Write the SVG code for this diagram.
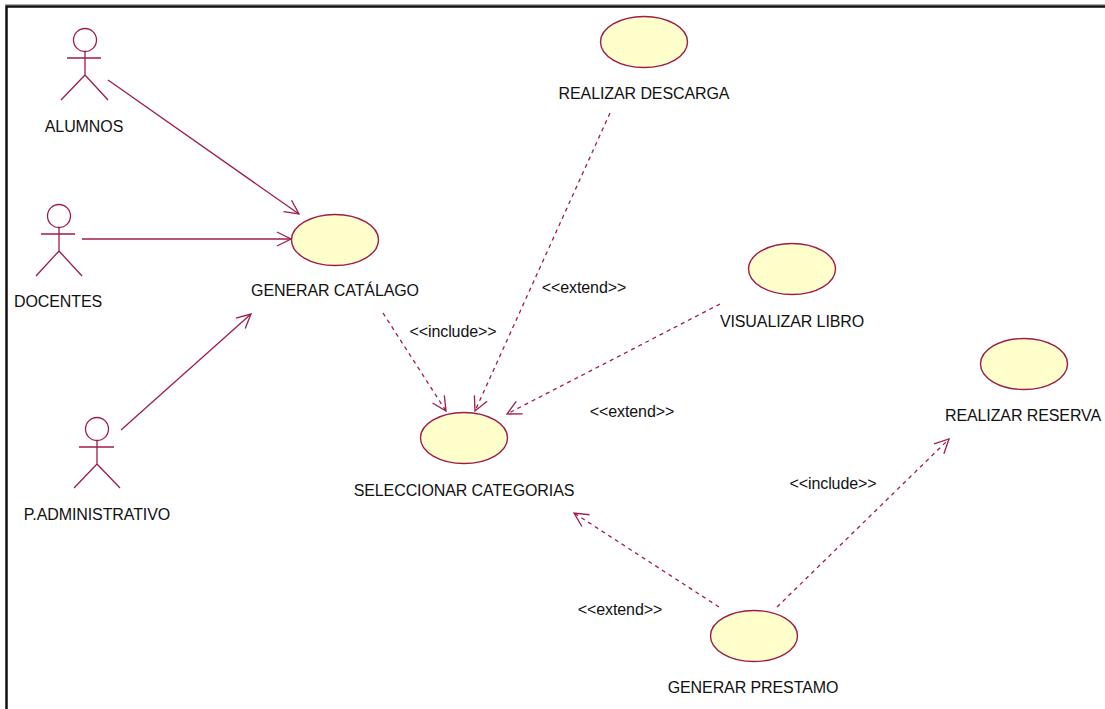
<svg xmlns="http://www.w3.org/2000/svg" width="1105" height="709" viewBox="0 0 1105 709">
<style>
.f{fill:none;stroke:#a01c48;stroke-width:1.3}
.u{fill:#ffffcc;stroke:#a01c48;stroke-width:1.4}
.d{stroke-dasharray:4 4}
text{font-family:"Liberation Sans",Arial,sans-serif;font-size:16px;fill:#111;text-anchor:middle;letter-spacing:-0.1px}
</style>
<defs>
<marker id="a" markerUnits="userSpaceOnUse" markerWidth="18" markerHeight="18" refX="16" refY="9" orient="auto"><path d="M2 2L16 9L2 16" fill="none" stroke="#a01c48" stroke-width="1.3"/></marker>
</defs>
<rect width="1105" height="709" fill="#fff"/>
<path d="M6.500 709V6.500H1105" fill="none" stroke="#111" stroke-width="2.500"/>
<path d="M5 4.500H1105" stroke="#aaa" stroke-width="1"/>
<g id="connectors">
<path class="f" marker-end="url(#a)" d="M108 80L299 214"/>
<path class="f" marker-end="url(#a)" d="M82 239H291"/>
<path class="f" marker-end="url(#a)" d="M121 430L251 314"/>
<path class="f d" marker-end="url(#a)" d="M383 313L446 411"/>
<path class="f d" marker-end="url(#a)" d="M610 113L475 411"/>
<path class="f d" marker-end="url(#a)" d="M720 304L507 414"/>
<path class="f d" marker-end="url(#a)" d="M719 607L574 513"/>
<path class="f d" marker-end="url(#a)" d="M777 607L949 439"/>
</g>
<g id="actor-alumnos"><circle class="f" cx="85" cy="40" r="11.500"/><path class="f" d="M85 52V75M67 58H101M85 75L61 100M85 75L108 100"/><text x="84" y="132">ALUMNOS</text></g>
<g id="actor-docentes"><circle class="f" cx="59" cy="216" r="11.500"/><path class="f" d="M59 228V251M41 234H75M59 251L36 276M59 251L82 276"/><text x="58" y="307">DOCENTES</text></g>
<g id="actor-administrativo"><circle class="f" cx="97" cy="429" r="11.500"/><path class="f" d="M97 441V464M79 447H114M97 464L74 488M97 464L120 488"/><text x="97" y="520">P.ADMINISTRATIVO</text></g>
<g id="uc-catalogo"><ellipse class="u" cx="335" cy="240" rx="43.500" ry="25.500"/><text x="335" y="296">GENERAR CATÁLAGO</text></g>
<g id="uc-descarga"><ellipse class="u" cx="644" cy="42" rx="43.500" ry="25.500"/><text x="644" y="99">REALIZAR DESCARGA</text></g>
<g id="uc-libro"><ellipse class="u" cx="792" cy="269" rx="43.500" ry="25.500"/><text x="792" y="327">VISUALIZAR LIBRO</text></g>
<g id="uc-reserva"><ellipse class="u" cx="1024" cy="364" rx="43.500" ry="25.500"/><text x="1023" y="421">REALIZAR RESERVA</text></g>
<g id="uc-categorias"><ellipse class="u" cx="464" cy="438" rx="43.500" ry="25.500"/><text x="464" y="496">SELECCIONAR CATEGORIAS</text></g>
<g id="uc-prestamo"><ellipse class="u" cx="754" cy="636" rx="43.500" ry="25.500"/><text x="753" y="693">GENERAR PRESTAMO</text></g>
<g id="labels">
<text x="453" y="337">&lt;&lt;include&gt;&gt;</text>
<text x="584" y="293">&lt;&lt;extend&gt;&gt;</text>
<text x="632" y="417">&lt;&lt;extend&gt;&gt;</text>
<text x="833" y="489">&lt;&lt;include&gt;&gt;</text>
<text x="620" y="615">&lt;&lt;extend&gt;&gt;</text>
</g>
</svg>
